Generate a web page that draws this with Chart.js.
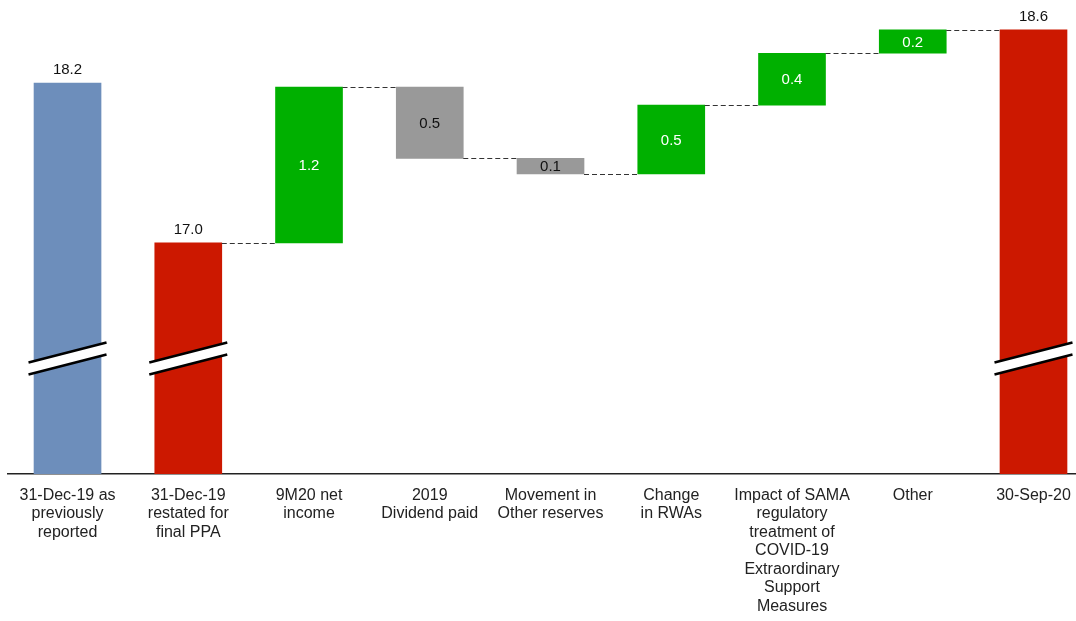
<!DOCTYPE html>
<html>
<head>
<meta charset="utf-8">
<script src="https://cdn.jsdelivr.net/npm/chart.js@4/dist/chart.umd.min.js"></script>
<style>
  html, body { margin: 0; padding: 0; background: #fff; }
  #wrap { width: 1076px; height: 621px; position: relative; }
</style>
</head>
<body>
<div id="wrap"><canvas id="bridge"></canvas></div>
<script>
// categories (multi-line tick labels)
const categories = [
  ['31-Dec-19 as', 'previously', 'reported'],
  ['31-Dec-19', 'restated for', 'final PPA'],
  ['9M20 net', 'income'],
  ['2019', 'Dividend paid'],
  ['Movement in', 'Other reserves'],
  ['Change', 'in RWAs'],
  ['Impact of SAMA', 'regulatory', 'treatment of', 'COVID-19', 'Extraordinary', 'Support', 'Measures'],
  ['Other'],
  ['30-Sep-20']
];
// values
const openingReported = 18.23;
const openingRestated = 17.0;
const steps = [1.2, -0.55, -0.12, 0.53, 0.40, 0.18];
const closing = 18.64;
const valueLabels = ['18.2', '17.0', '1.2', '0.5', '0.1', '0.5', '0.4', '0.2', '18.6'];
const barKinds = ['prior', 'total', 'up', 'down', 'down', 'up', 'up', 'up', 'total'];

const axisFloor = 15.22;
const axisTop = 18.87;
const breakAt = 16.11;
const kindColors = { prior: '#6d8ebb', total: '#cc1800', up: '#00b000', down: '#999999' };

// build floating ranges + running levels
const ranges = [[axisFloor, openingReported], [axisFloor, openingRestated]];
const levels = [openingReported, openingRestated];
let running = openingRestated;
steps.forEach(s => {
  ranges.push([running, running + s]);
  running += s;
  levels.push(running);
});
ranges.push([axisFloor, closing]);
levels.push(closing);

const waterfallExtras = {
  id: 'waterfallExtras',
  afterDatasetsDraw(chart) {
    const ctx = chart.ctx;
    const bars = chart.getDatasetMeta(0).data;
    const y = chart.scales.y;

    // dashed connectors
    ctx.save();
    ctx.strokeStyle = '#333';
    ctx.lineWidth = 1;
    ctx.setLineDash([5, 3]);
    for (let i = 1; i < bars.length - 1; i++) {
      const a = bars[i], b = bars[i + 1];
      const py = Math.round(y.getPixelForValue(levels[i])) + 0.5;
      ctx.beginPath();
      ctx.moveTo(a.x + a.width / 2, py);
      ctx.lineTo(b.x - b.width / 2, py);
      ctx.stroke();
    }
    ctx.restore();

    // axis break marks
    const cy = y.getPixelForValue(breakAt);
    barKinds.forEach((k, i) => {
      if (k === 'up' || k === 'down') return;
      const cx = bars[i].x;
      const l = cx - 39, r = cx + 39;
      ctx.save();
      ctx.fillStyle = '#fff';
      ctx.beginPath();
      ctx.moveTo(l, cy + 4);
      ctx.lineTo(r, cy - 16);
      ctx.lineTo(r, cy - 4);
      ctx.lineTo(l, cy + 16);
      ctx.closePath();
      ctx.fill();
      ctx.strokeStyle = '#000';
      ctx.lineWidth = 2.5;
      ctx.beginPath();
      ctx.moveTo(l, cy + 4); ctx.lineTo(r, cy - 16);
      ctx.moveTo(l, cy + 16); ctx.lineTo(r, cy - 4);
      ctx.stroke();
      ctx.restore();
    });

    // value labels
    ctx.save();
    ctx.font = '15px "Liberation Sans", Arial, sans-serif';
    ctx.textAlign = 'center';
    ctx.textBaseline = 'middle';
    bars.forEach((bar, i) => {
      const k = barKinds[i];
      const top = Math.min(bar.y, bar.base);
      if (k === 'prior' || k === 'total') {
        ctx.fillStyle = '#111';
        ctx.fillText(valueLabels[i], bar.x, top - 13);
      } else {
        ctx.fillStyle = k === 'up' ? '#fff' : '#111';
        ctx.fillText(valueLabels[i], bar.x, (bar.y + bar.base) / 2 + 1);
      }
    });
    ctx.restore();
  }
};

new Chart('bridge', {
  type: 'bar',
  data: {
    datasets: [{
      data: categories.map((c, i) => ({ x: i, y: ranges[i] })),
      backgroundColor: barKinds.map(k => kindColors[k]),
      borderWidth: 0,
      barThickness: 67
    }]
  },
  options: {
    responsive: true,
    maintainAspectRatio: false,
    animation: false,
    layout: { padding: { left: 8, right: 0, top: 0, bottom: 0 } },
    plugins: { legend: { display: false }, tooltip: { enabled: false } },
    scales: {
      x: {
        type: 'linear',
        offset: false,
        bounds: 'data',
        min: -0.493,
        max: 8.352,
        grid: { display: false, drawTicks: false, offset: false },
        border: { display: true, color: '#222', width: 1.5 },
        afterBuildTicks: ax => { ax.ticks = categories.map((c, i) => ({ value: i })); },
        afterFit: ax => { ax.paddingLeft = 0; ax.paddingRight = 0; ax.height = 147; },
        ticks: {
          autoSkip: false,
          maxRotation: 0,
          padding: 12,
          color: '#222',
          font: { family: '"Liberation Sans", Arial, sans-serif', size: 16, lineHeight: '18.5px' },
          callback: v => categories[v]
        }
      },
      y: { display: false, min: axisFloor, max: axisTop }
    }
  },
  plugins: [waterfallExtras]
});
</script>
</body>
</html>
